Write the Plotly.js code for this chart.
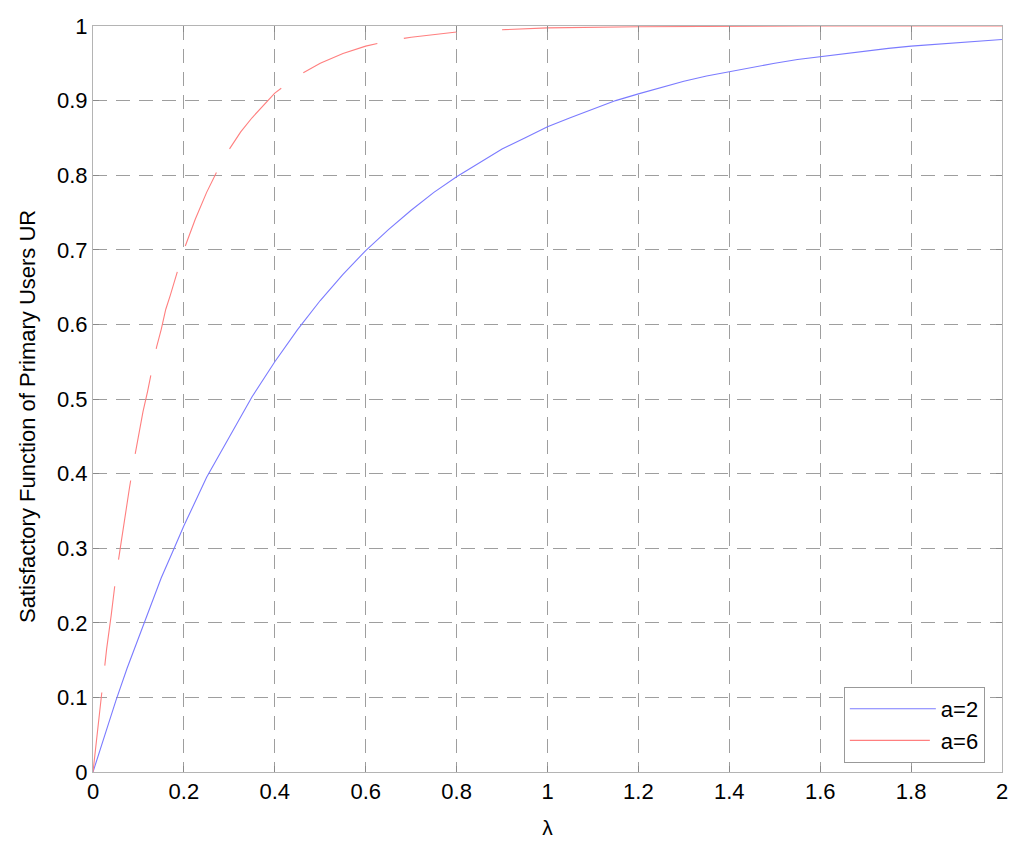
<!DOCTYPE html>
<html>
<head>
<meta charset="utf-8">
<script src="https://cdn.plot.ly/plotly-3.0.1.min.js"></script>
<style>html,body{margin:0;padding:0;background:#fff;}#chart{width:1024px;height:849px;}</style>
</head>
<body>
<div id="chart"></div>
<script>
// a = 2 (blue)
const xBlue = [0,0.025,0.05,0.075,0.1,0.125,0.15,0.175,0.2,0.25,0.3,0.35,0.4,0.45,0.5,0.55,0.6,0.65,0.7,0.75,0.8,0.85,0.9,0.95,1.0,1.05,1.1,1.15,1.2,1.25,1.3,1.35,1.4,1.45,1.5,1.55,1.6,1.65,1.7,1.75,1.8,1.85,1.9,1.95,2.0];
const yBlue = [0,0.049,0.095,0.139,0.18,0.221,0.26,0.295,0.33,0.395,0.45,0.503,0.55,0.593,0.632,0.667,0.699,0.727,0.753,0.777,0.798,0.817,0.835,0.85,0.865,0.877,0.889,0.90,0.909,0.918,0.926,0.933,0.939,0.945,0.95,0.955,0.959,0.963,0.967,0.97,0.973,0.975,0.978,0.98,0.982];
// a = 6 (red)
const xRed = [0,0.01,0.02,0.03,0.04,0.05,0.06,0.07,0.08,0.09,0.1,0.11,0.12,0.13,0.14,0.15,0.16,0.17,0.18,0.19,0.2,0.225,0.25,0.275,0.3,0.325,0.35,0.4,0.45,0.5,0.55,0.6,0.65,0.7,0.75,0.8,0.9,1.0,1.2,1.4,1.6,1.8,2.0];
const yRed = [0,0.058,0.11,0.165,0.21,0.26,0.30,0.343,0.38,0.417,0.45,0.483,0.51,0.542,0.57,0.593,0.62,0.639,0.66,0.68,0.70,0.741,0.777,0.808,0.835,0.858,0.877,0.91,0.933,0.95,0.963,0.973,0.98,0.985,0.989,0.992,0.995,0.9975,0.999,1.0,1.0,1.0,1.0];
const seriesNames = ["a=2","a=6"];
const xTicks = [0,0.2,0.4,0.6,0.8,1,1.2,1.4,1.6,1.8,2];
const xTickText = ["0","0.2","0.4","0.6","0.8","1","1.2","1.4","1.6","1.8","2"];
const yTicks = [0,0.1,0.2,0.3,0.4,0.5,0.6,0.7,0.8,0.9,1];
const yTickText = ["0","0.1","0.2","0.3","0.4","0.5","0.6","0.7","0.8","0.9","1"];
const yTitle = "Satisfactory Function of Primary Users UR";

const FONT = "Liberation Sans, Arial, sans-serif";
// the saturated tail of the a=6 curve is drawn solid, as in the original
const split = xRed.indexOf(0.9);
const traces = [
  {x:xBlue, y:yBlue, name:seriesNames[0], mode:"lines", line:{color:"#7b7bff", width:1.1}},
  {x:xRed.slice(0, split), y:yRed.slice(0, split), name:seriesNames[1], legendgroup:"r", mode:"lines",
   line:{color:"#ff7f7f", width:1.1, dash:"80px,27px"}},
  {x:xRed.slice(split), y:yRed.slice(split), name:seriesNames[1], legendgroup:"r", showlegend:false, mode:"lines",
   line:{color:"#ff7f7f", width:1.1}}
];
const axisCommon = {
  showgrid:true, gridcolor:"#9e9e9e", griddash:"14px,9px", gridwidth:1,
  showline:true, linecolor:"#b4b4b4", linewidth:1, mirror:"ticks",
  ticks:"inside", ticklen:6, tickcolor:"#8a8a8a", zeroline:false,
  tickfont:{family:FONT, size:22, color:"#000"}
};
const layout = {
  width:1024, height:849,
  margin:{l:93, r:22, t:26, b:77},
  paper_bgcolor:"#fff", plot_bgcolor:"#fff",
  font:{family:FONT, color:"#000"},
  showlegend:true,
  xaxis:Object.assign({}, axisCommon, {range:[0,2], tickvals:xTicks, ticktext:xTickText,
    title:{text:"λ", font:{family:FONT, size:21}, standoff:16}}),
  yaxis:Object.assign({}, axisCommon, {range:[0,1], tickvals:yTicks, ticktext:yTickText}),
  annotations:[{text:yTitle, xref:"paper", yref:"paper", x:0, y:0.5, xanchor:"center", yanchor:"middle",
    xshift:-66, yshift:-18, textangle:-90, showarrow:false, font:{family:FONT, size:22, color:"#000"}}],
  legend:{x:0.826, y:0.114, xanchor:"left", yanchor:"top", bgcolor:"#fff",
    bordercolor:"#999", borderwidth:1, font:{family:FONT, size:22}, itemwidth:86, tracegroupgap:0}
};
Plotly.newPlot("chart", traces, layout, {displayModeBar:false, staticPlot:true});
</script>
</body>
</html>
